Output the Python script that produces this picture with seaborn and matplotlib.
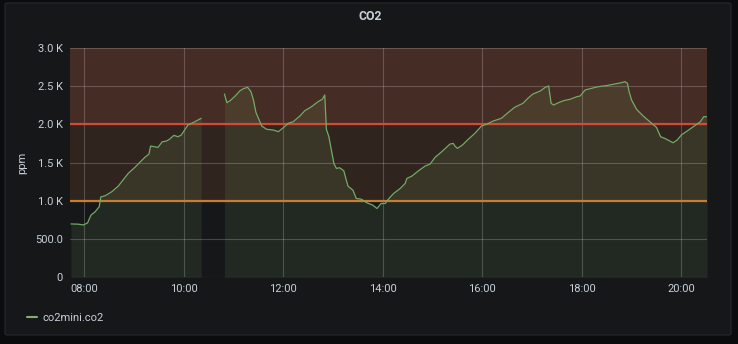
import matplotlib
matplotlib.use("Agg")
import matplotlib.pyplot as plt
from matplotlib.patches import FancyBboxPatch
from matplotlib.lines import Line2D
import seaborn as sns
import pandas as pd

# ---- data ----
title = "CO2"
series_name = "co2mini.co2"
y_label = "ppm"
day = "2020-01-01 "

seg1_times = ["07:44", "07:53", "07:59", "08:04", "08:08", "08:13", "08:18", "08:20",
              "08:25", "08:33", "08:41", "08:53", "09:01", "09:13", "09:18", "09:20",
              "09:25", "09:29", "09:34", "09:39", "09:43", "09:48", "09:53", "09:57",
              "10:05", "10:11", "10:21"]
seg1_values = [698, 695, 685, 712, 812, 856, 922, 1052,
               1066, 1118, 1193, 1359, 1438, 1569, 1612, 1717,
               1708, 1700, 1773, 1782, 1808, 1857, 1839, 1861,
               1992, 2022, 2080]

seg2_times = ["10:49", "10:52", "10:56", "11:02", "11:08", "11:12", "11:17", "11:21",
              "11:24", "11:27", "11:30", "11:34", "11:40", "11:48", "11:54", "12:00",
              "12:06", "12:12", "12:20", "12:26", "12:34", "12:42", "12:47", "12:50",
              "12:52", "12:55", "12:58", "13:01", "13:04", "13:08", "13:13", "13:16",
              "13:18", "13:24", "13:28", "13:34", "13:41", "13:48", "13:53", "13:58",
              "14:03", "14:07", "14:13", "14:21", "14:27", "14:29", "14:35", "14:43",
              "14:51", "14:57", "15:03", "15:11", "15:21", "15:25", "15:27", "15:30",
              "15:36", "15:43", "15:51", "15:59", "16:05", "16:13", "16:23", "16:31",
              "16:39", "16:49", "16:55", "17:01", "17:10", "17:16", "17:20", "17:23",
              "17:26", "17:32", "17:38", "17:46", "17:54", "17:58", "18:04", "18:12",
              "18:20", "18:30", "18:40", "18:48", "18:52", "18:55", "18:57", "19:00",
              "19:06", "19:14", "19:22", "19:30", "19:35", "19:40", "19:50", "19:55",
              "20:00", "20:10", "20:19", "20:23", "20:27", "20:31"]
seg2_values = [2398, 2285, 2311, 2372, 2442, 2468, 2486, 2429,
               2320, 2158, 2080, 1979, 1936, 1927, 1905, 1957,
               2014, 2036, 2110, 2180, 2232, 2298, 2329, 2385,
               1936, 1839, 1664, 1490, 1425, 1433, 1393, 1271,
               1193, 1140, 1031, 1022, 974, 944, 900, 966,
               966, 1026, 1096, 1162, 1228, 1293, 1324, 1393,
               1455, 1481, 1569, 1642, 1743, 1752, 1717, 1687,
               1730, 1805, 1883, 1979, 2001, 2044, 2080, 2154,
               2224, 2276, 2342, 2398, 2438, 2486, 2503, 2276,
               2254, 2285, 2311, 2329, 2363, 2372, 2451, 2473,
               2494, 2508, 2530, 2547, 2560, 2538, 2429, 2320,
               2198, 2110, 2036, 1962, 1839, 1818, 1760, 1796,
               1861, 1936, 2005, 2036, 2101, 2101]

warn_threshold = 1000
crit_threshold = 2000
y_ticks = [0, 500, 1000, 1500, 2000, 2500, 3000]
y_tick_labels = ["0", "500.0", "1.0 K", "1.5 K", "2.0 K", "2.5 K", "3.0 K"]
x_tick_labels = ["08:00", "10:00", "12:00", "14:00", "16:00", "18:00", "20:00"]
x_start, x_end = "07:42:48", "20:30:36"

# ---- frames ----
df1 = pd.DataFrame({"time": pd.to_datetime([day + t for t in seg1_times]), "value": seg1_values})
df2 = pd.DataFrame({"time": pd.to_datetime([day + t for t in seg2_times]), "value": seg2_values})

# ---- style ----
sns.set_theme(style="dark")
plt.rcParams["font.family"] = ["Roboto", "DejaVu Sans"]
text_col = "#c7d0d9"
panel_bg = "#161719"
outer_bg = "#0b0c0e"
line_col = "#7eb26d"

fig = plt.figure(figsize=(7.38, 3.44), dpi=100, facecolor=outer_bg)
panel = FancyBboxPatch((5 / 738, 9 / 344), 726 / 738, 332 / 344,
                       boxstyle="round,pad=0,rounding_size=0.004",
                       transform=fig.transFigure, facecolor=panel_bg,
                       edgecolor="#222428", linewidth=1, zorder=-10)
fig.patches.append(panel)

ax = fig.add_axes([70 / 738, 66.7 / 344, 636.7 / 738, 229.3 / 344])
ax.set_facecolor(panel_bg)
ax.set_zorder(1)

# threshold regions
ax.axhspan(crit_threshold, 3000, color="#452c24", zorder=0.1, lw=0)
ax.axhspan(warn_threshold, crit_threshold, color="#30241e", zorder=0.1, lw=0)

# series
for d in [df1, df2]:
    ax.fill_between(d["time"], d["value"], 0, color=line_col, alpha=0.12, lw=0, zorder=0.2)
    sns.lineplot(data=d, x="time", y="value", ax=ax, color="#73ab66", lw=0.9, zorder=3)

ax.axhline(crit_threshold, color="#d24a3b", lw=1.6, zorder=2)
ax.axhline(warn_threshold, color="#c97d30", lw=1.6, zorder=2)

ax.set_ylim(0, 3000)
ax.set_xlim(pd.Timestamp(day + x_start), pd.Timestamp(day + x_end))
ax.set_yticks(y_ticks)
ax.set_yticklabels(y_tick_labels)
ax.set_xticks(pd.to_datetime([day + t for t in x_tick_labels]))
ax.set_xticklabels(x_tick_labels)
ax.tick_params(colors=text_col, labelsize=8, length=0, pad=5)
ax.grid(True, color="#ffffff", alpha=0.2, lw=0.8)
ax.set_axisbelow(True)
for s in ax.spines.values():
    s.set_visible(False)
ax.set_xlabel("")
ax.set_ylabel(y_label, color=text_col, fontsize=8, labelpad=6)

fig.text(370 / 738, 1 - 16 / 344, title, color=text_col, fontsize=8.8,
         fontweight="bold", ha="center", va="center")

handle = Line2D([], [], color=line_col, lw=1.5)
fig.legend([handle], [series_name], loc="center left",
           bbox_to_anchor=(17 / 738, 1 - 318 / 344), frameon=False,
           labelcolor=text_col, fontsize=8, handlelength=0.9, handletextpad=0.5)

fig.savefig("out.png", dpi=100, facecolor=outer_bg)
